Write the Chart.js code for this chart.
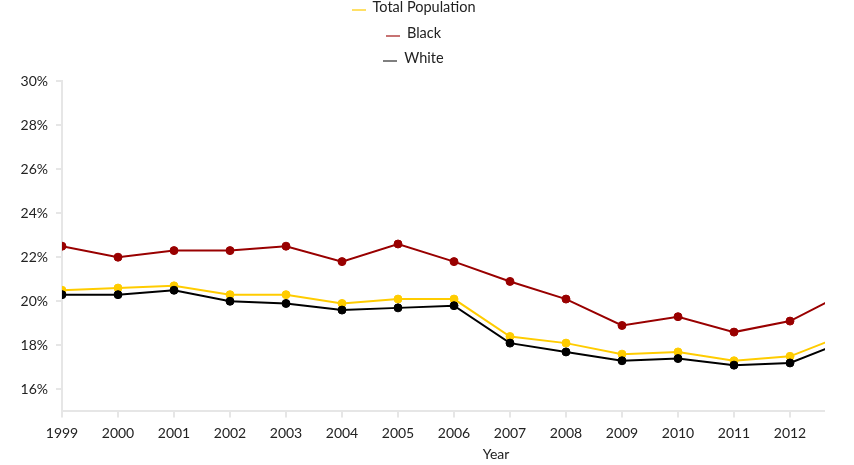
<!DOCTYPE html>
<html>
<head>
<meta charset="utf-8">
<script src="https://cdn.jsdelivr.net/npm/chart.js@4.4.0/dist/chart.umd.min.js"></script>
<style>
  html, body { margin: 0; padding: 0; background: #fff; }
  #wrap { position: relative; width: 825px; height: 465px; overflow: hidden; }
  #legend {
    position: absolute; left: 0; top: -2px; width: 827px;
    font-family: Lato, sans-serif; font-size: 14.5px; color: #222;
    text-align: center; z-index: 2;
  }
  #legend div { height: 25.5px; line-height: 17px; }
  #legend span.mark {
    display: inline-block; width: 14px; height: 2px;
    margin-right: 7px; vertical-align: 1px;
  }
  canvas { position: absolute; left: 0; top: 0; }
</style>
</head>
<body>
<div id="wrap">
  <div id="legend"></div>
  <canvas id="chart" width="940" height="465"></canvas>
</div>
<script>
// Years on the x axis (2013 runs off the clipped right edge)
var years = [1999, 2000, 2001, 2002, 2003, 2004, 2005, 2006, 2007, 2008, 2009, 2010, 2011, 2012, 2013];
var xTicks = [1999, 2000, 2001, 2002, 2003, 2004, 2005, 2006, 2007, 2008, 2009, 2010, 2011, 2012];
var yTicks = [16, 18, 20, 22, 24, 26, 28, 30];

// Values in percent
var totalPopulation = [20.5, 20.6, 20.7, 20.3, 20.3, 19.9, 20.1, 20.1, 18.4, 18.1, 17.6, 17.7, 17.3, 17.5, 18.5];
var black = [22.5, 22.0, 22.3, 22.3, 22.5, 21.8, 22.6, 21.8, 20.9, 20.1, 18.9, 19.3, 18.6, 19.1, 20.4];
var white = [20.3, 20.3, 20.5, 20.0, 19.9, 19.6, 19.7, 19.8, 18.1, 17.7, 17.3, 17.4, 17.1, 17.2, 18.2];

function toPoints(values) {
    return years.map(function (yr, i) { return { x: yr, y: values[i] }; });
}

function makeSet(label, values, color, legendColor, order) {
    return {
        label: label,
        data: toPoints(values),
        borderColor: color,
        backgroundColor: color,
        borderWidth: 2,
        pointRadius: 4,
        pointBorderWidth: 1,
        pointBackgroundColor: color,
        pointBorderColor: color,
        tension: 0,
        order: order,
        legendColor: legendColor
    };
}

var datasets = [
    makeSet('Total Population', totalPopulation, '#ffcc00', 'rgba(255, 204, 0, 0.6)', 2),
    makeSet('Black', black, '#990000', 'rgba(153, 0, 0, 0.55)', 1),
    makeSet('White', white, '#000000', 'rgba(0, 0, 0, 0.5)', 0)
];

var gridGray = '#e6e6e6';
var tickFont = { family: 'Lato', size: 14 };

var chart = new Chart(document.getElementById('chart').getContext('2d'), {
    type: 'line',
    data: { datasets: datasets },
    options: {
        responsive: false,
        animation: false,
        layout: { padding: { top: 81, left: 0, right: 10, bottom: 0 } },
        plugins: {
            legend: { display: false },
            tooltip: { enabled: false }
        },
        scales: {
            x: {
                type: 'linear',
                min: 1999,
                max: 2014.5,
                afterBuildTicks: function (scale) {
                    scale.ticks = xTicks.map(function (v) { return { value: v }; });
                },
                ticks: {
                    color: '#222',
                    font: tickFont,
                    padding: 8,
                    maxRotation: 0,
                    callback: function (v) { return String(v); }
                },
                grid: { drawOnChartArea: false, color: gridGray, lineWidth: 2, tickLength: 6 },
                border: { color: gridGray, width: 2 },
                title: {
                    display: true,
                    text: 'Year',
                    color: '#222',
                    font: { family: 'Lato', size: 14 },
                    padding: { top: -4, bottom: 2 }
                }
            },
            y: {
                min: 15,
                max: 30,
                afterBuildTicks: function (scale) {
                    scale.ticks = yTicks.map(function (v) { return { value: v }; });
                },
                afterFit: function (scale) { scale.width = 62; },
                ticks: {
                    color: '#222',
                    font: tickFont,
                    padding: 8,
                    callback: function (v) { return v + '%'; }
                },
                grid: { drawOnChartArea: false, color: gridGray, lineWidth: 2, tickLength: 6 },
                border: { color: gridGray, width: 2 }
            }
        }
    }
});

// Build the stacked legend from the datasets
var legend = document.getElementById('legend');
chart.data.datasets.forEach(function (ds) {
    var row = document.createElement('div');
    var mark = document.createElement('span');
    mark.className = 'mark';
    mark.style.background = ds.legendColor;
    row.appendChild(mark);
    row.appendChild(document.createTextNode(ds.label));
    legend.appendChild(row);
});
</script>
</body>
</html>
